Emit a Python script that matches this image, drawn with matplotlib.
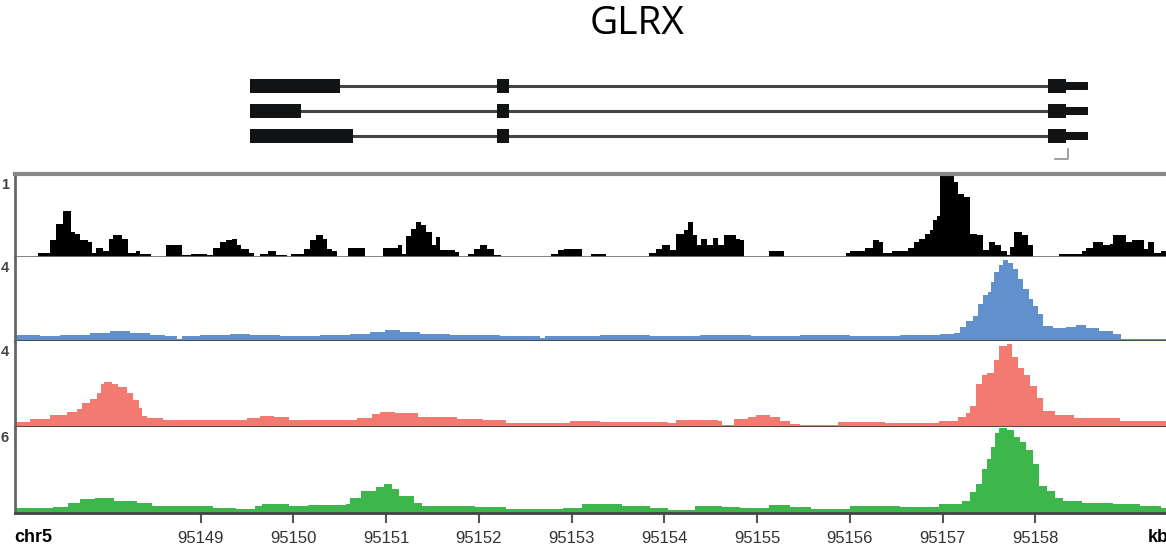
import matplotlib.pyplot as plt
from matplotlib.patches import Rectangle

W, H = 1166, 550

gene_name = "GLRX"
chrom = "chr5"
x_start, x_end = 95147.0, 95159.56
kb_ticks = [95149, 95150, 95151, 95152, 95153, 95154, 95155, 95156, 95157, 95158]

# coverage tracks, bedGraph style: start of each step (kb) and the signal from there on
black_pos = [95146.9, 95147.25, 95147.38, 95147.44, 95147.52, 95147.60, 95147.65, 95147.70,
             95147.79, 95147.83, 95147.87, 95147.95, 95148.01, 95148.06, 95148.15, 95148.22,
             95148.30, 95148.35, 95148.47, 95148.63, 95148.80, 95148.90, 95149.07, 95149.13,
             95149.21, 95149.27, 95149.34, 95149.39, 95149.44, 95149.52, 95149.58, 95149.64,
             95149.73, 95149.81, 95149.93, 95149.98, 95150.12, 95150.18, 95150.25, 95150.32,
             95150.36, 95150.42, 95150.47, 95150.59, 95150.77, 95150.97, 95151.13, 95151.17,
             95151.22, 95151.27, 95151.32, 95151.38, 95151.43, 95151.50, 95151.54, 95151.58,
             95151.74, 95151.79, 95151.88, 95151.95, 95152.01, 95152.09, 95152.16, 95152.24,
             95152.78, 95152.85, 95152.92, 95153.11, 95153.21, 95153.37, 95153.84, 95153.91,
             95153.98, 95154.06, 95154.13, 95154.21, 95154.26, 95154.31, 95154.35, 95154.40,
             95154.46, 95154.53, 95154.58, 95154.64, 95154.77, 95154.82, 95154.86, 95155.13,
             95155.29, 95155.96, 95156.00, 95156.16, 95156.25, 95156.32, 95156.36, 95156.46,
             95156.63, 95156.69, 95156.75, 95156.81, 95156.86, 95156.90, 95156.94, 95156.97,
             95157.02, 95157.06, 95157.12, 95157.17, 95157.23, 95157.30, 95157.37, 95157.44,
             95157.50, 95157.57, 95157.63, 95157.69, 95157.73, 95157.77, 95157.86, 95157.92,
             95157.97, 95158.26, 95158.50, 95158.55, 95158.62, 95158.73, 95158.80, 95158.84,
             95158.98, 95159.04, 95159.17, 95159.22, 95159.28, 95159.35]
black_val = [0.0, 0.05, 0.20, 0.40, 0.56, 0.30, 0.28, 0.20,
             0.18, 0.05, 0.11, 0.07, 0.22, 0.27, 0.22, 0.05,
             0.07, 0.04, 0.0, 0.14, 0.03, 0.04, 0.03, 0.11,
             0.18, 0.21, 0.22, 0.15, 0.10, 0.05, 0.0, 0.04,
             0.07, 0.03, 0.0, 0.04, 0.10, 0.20, 0.27, 0.22,
             0.10, 0.07, 0.0, 0.11, 0.0, 0.11, 0.15, 0.04,
             0.25, 0.34, 0.42, 0.38, 0.30, 0.15, 0.24, 0.08,
             0.06, 0.0, 0.04, 0.10, 0.14, 0.10, 0.03, 0.0,
             0.04, 0.08, 0.10, 0.0, 0.04, 0.0, 0.05, 0.10,
             0.15, 0.09, 0.28, 0.32, 0.42, 0.26, 0.15, 0.22,
             0.15, 0.23, 0.14, 0.27, 0.22, 0.20, 0.0, 0.07,
             0.0, 0.05, 0.07, 0.11, 0.20, 0.18, 0.05, 0.07,
             0.11, 0.18, 0.22, 0.28, 0.32, 0.45, 0.50, 0.97,
             1.0, 0.97, 0.90, 0.76, 0.72, 0.28, 0.26, 0.09,
             0.18, 0.15, 0.07, 0.02, 0.12, 0.30, 0.26, 0.14,
             0.0, 0.04, 0.07, 0.11, 0.18, 0.15, 0.16, 0.26,
             0.18, 0.20, 0.10, 0.18, 0.05, 0.07]

blue_pos = [95146.9, 95147.27, 95147.49, 95147.81, 95148.02, 95148.24, 95148.46, 95148.62,
            95148.75, 95148.80, 95148.99, 95149.32, 95149.53, 95149.86, 95150.29, 95150.61,
            95150.83, 95150.99, 95151.15, 95151.37, 95151.69, 95152.23, 95152.66, 95152.71,
            95153.31, 95153.85, 95154.39, 95154.93, 95155.46, 95156.00, 95156.54, 95156.97,
            95157.12, 95157.19, 95157.25, 95157.33, 95157.38, 95157.44, 95157.49, 95157.52,
            95157.56, 95157.61, 95157.65, 95157.71, 95157.76, 95157.81, 95157.87, 95157.93,
            95157.98, 95158.03, 95158.08, 95158.19, 95158.33, 95158.44, 95158.55, 95158.69,
            95158.84, 95158.92]
blue_val = [0.28, 0.24, 0.28, 0.38, 0.47, 0.38, 0.28, 0.24,
            0.09, 0.24, 0.28, 0.33, 0.28, 0.24, 0.28, 0.33,
            0.42, 0.52, 0.42, 0.33, 0.28, 0.24, 0.14, 0.24,
            0.28, 0.24, 0.28, 0.24, 0.28, 0.24, 0.28, 0.33,
            0.38, 0.66, 0.94, 1.18, 1.74, 2.21, 2.35, 2.82,
            3.29, 3.62, 3.86, 3.72, 3.44, 2.96, 2.49, 2.02,
            1.65, 1.27, 0.71, 0.61, 0.66, 0.75, 0.61, 0.47,
            0.33, 0.09]

red_pos = [95146.9, 95147.16, 95147.38, 95147.56, 95147.67, 95147.72, 95147.81, 95147.88,
           95147.93, 95147.96, 95148.05, 95148.11, 95148.21, 95148.27, 95148.34, 95148.37,
           95148.42, 95148.60, 95149.50, 95149.64, 95149.79, 95149.95, 95150.69, 95150.85,
           95150.94, 95151.10, 95151.35, 95151.76, 95152.05, 95152.29, 95152.98, 95153.31,
           95154.04, 95154.13, 95154.58, 95154.62, 95154.75, 95154.90, 95154.99, 95155.14,
           95155.25, 95155.36, 95155.46, 95155.87, 95156.38, 95156.96, 95157.17, 95157.25,
           95157.30, 95157.36, 95157.42, 95157.48, 95157.55, 95157.61, 95157.69, 95157.75,
           95157.81, 95157.88, 95157.94, 95158.02, 95158.08, 95158.21, 95158.42, 95158.91]
red_val = [0.24, 0.38, 0.56, 0.71, 0.85, 1.13, 1.32, 1.60,
           1.98, 2.07, 2.02, 1.84, 1.60, 1.27, 0.89, 0.52,
           0.42, 0.33, 0.42, 0.52, 0.47, 0.33, 0.42, 0.61,
           0.71, 0.66, 0.47, 0.38, 0.33, 0.19, 0.28, 0.24,
           0.19, 0.33, 0.28, 0.09, 0.38, 0.47, 0.56, 0.47,
           0.28, 0.14, 0.09, 0.24, 0.19, 0.28, 0.47, 0.66,
           0.99, 2.02, 2.40, 2.49, 3.11, 3.76, 3.86, 3.25,
           2.73, 2.40, 1.93, 1.36, 0.75, 0.56, 0.42, 0.28]

green_pos = [95146.9, 95147.41, 95147.57, 95147.70, 95147.86, 95148.07, 95148.32, 95148.48,
             95149.13, 95149.38, 95149.59, 95149.66, 95149.95, 95150.16, 95150.57, 95150.61,
             95150.73, 95150.89, 95150.98, 95151.06, 95151.14, 95151.30, 95151.39, 95151.96,
             95152.29, 95152.91, 95153.11, 95153.54, 95153.85, 95154.04, 95154.33, 95154.62,
             95154.82, 95155.13, 95155.36, 95155.58, 95156.00, 95156.54, 95156.96, 95157.21,
             95157.30, 95157.36, 95157.42, 95157.48, 95157.52, 95157.57, 95157.61, 95157.69,
             95157.77, 95157.84, 95157.90, 95157.97, 95158.04, 95158.13, 95158.21, 95158.30,
             95158.50, 95158.84, 95159.13, 95159.35]
green_val = [0.35, 0.42, 0.71, 0.99, 1.06, 0.85, 0.71, 0.49,
             0.35, 0.28, 0.49, 0.64, 0.49, 0.56, 0.64, 1.06,
             1.55, 1.84, 2.05, 1.69, 1.20, 0.71, 0.49, 0.42,
             0.28, 0.35, 0.64, 0.49, 0.35, 0.21, 0.49, 0.42,
             0.35, 0.56, 0.42, 0.28, 0.49, 0.42, 0.64, 0.85,
             1.48, 2.05, 3.04, 3.74, 4.59, 5.58, 5.93, 5.79,
             5.29, 4.94, 4.38, 3.39, 1.91, 1.55, 1.06, 0.85,
             0.71, 0.64, 0.49, 0.35]

track_pos = [black_pos, blue_pos, red_pos, green_pos]
track_val = [black_val, blue_val, red_val, green_val]
track_max = [1, 4, 4, 6]
track_colors = ["#000000", "#6190cc", "#f27a70", "#3db64c"]

# three GLRX isoforms: shared start/end, different first exon
tx_start, tx_end = 95149.53, 95158.57
first_exon_end = [95150.50, 95150.08, 95150.64]
mid_exon = (95152.20, 95152.33)
last_exon = (95158.14, 95158.33)
utr = (95158.33, 95158.57)
tss_x = (95158.21, 95158.35)

fig = plt.figure(figsize=(W / 100, H / 100), dpi=100)


def px_axes(x0, y0, x1, y1):
    return fig.add_axes([x0 / W, 1 - y1 / H, (x1 - x0) / W, (y1 - y0) / H])


fig.text(637 / W, 1 - 24 / H, gene_name, fontsize=28, family="Open Sans",
         ha="center", va="center", color="black")

# gene model
gx = px_axes(15, 61, 1180, 161)
gx.set_xlim(x_start, x_end)
gx.set_ylim(4, 0)
gx.axis("off")
for row, e1 in enumerate(first_exon_end, start=1):
    gx.plot([tx_start, last_exon[0]], [row, row], color="#444444", lw=2.2,
            solid_capstyle="butt", zorder=1)
    for a, b, h in [(tx_start, e1, 0.56), (mid_exon[0], mid_exon[1], 0.56),
                    (last_exon[0], last_exon[1], 0.56), (utr[0], utr[1], 0.34)]:
        gx.add_patch(Rectangle((a, row - h / 2), b - a, h, color="#111315", lw=0, zorder=2))
gx.plot([tss_x[0], tss_x[1], tss_x[1]], [3.92, 3.92, 3.5], color="#9a9a9a", lw=1.3)

# signal tracks
tops = [174, 257, 341, 427]
bottoms = [257, 341, 427, 513]
for i in range(4):
    ax = px_axes(15, tops[i], 1180, bottoms[i])
    pos = list(track_pos[i]) + [x_end]
    val = list(track_val[i]) + [track_val[i][-1]]
    ax.fill_between(pos, val, step="post", color=track_colors[i], lw=0)
    ax.set_xlim(x_start, x_end)
    ax.set_ylim(0, track_max[i])
    ax.set_yticks([])
    ax.spines["right"].set_visible(False)
    ax.spines["left"].set_color("#666666")
    ax.spines["left"].set_linewidth(2)
    ax.spines["bottom"].set_color("#444444")
    ax.spines["bottom"].set_linewidth(2)
    if i == 0:
        ax.spines["top"].set_color("#888888")
        ax.spines["top"].set_linewidth(3)
        ax.spines["bottom"].set_color("#777777")
    else:
        ax.spines["top"].set_visible(False)
    if i == 3:
        ax.set_xticks(kb_ticks)
        ax.set_xticklabels([str(t) for t in kb_ticks], fontsize=12,
                           family="Liberation Sans", color="#333333")
        ax.tick_params(axis="x", length=7, width=1.5, color="#555555", pad=6)
    else:
        ax.set_xticks([])
    fig.text(9 / W, 1 - (tops[i] + 11) / H, str(track_max[i]), fontsize=10.5,
             family="Liberation Sans", weight="bold", color="#444444",
             ha="right", va="center")

fig.text(14 / W, 1 - 538 / H, chrom, fontsize=13, family="Liberation Sans",
         weight="bold", ha="left", va="center")
fig.text(1148 / W, 1 - 538 / H, "kb", fontsize=13, family="Liberation Sans",
         weight="bold", ha="left", va="center")

fig.savefig("out.png", dpi=100)
